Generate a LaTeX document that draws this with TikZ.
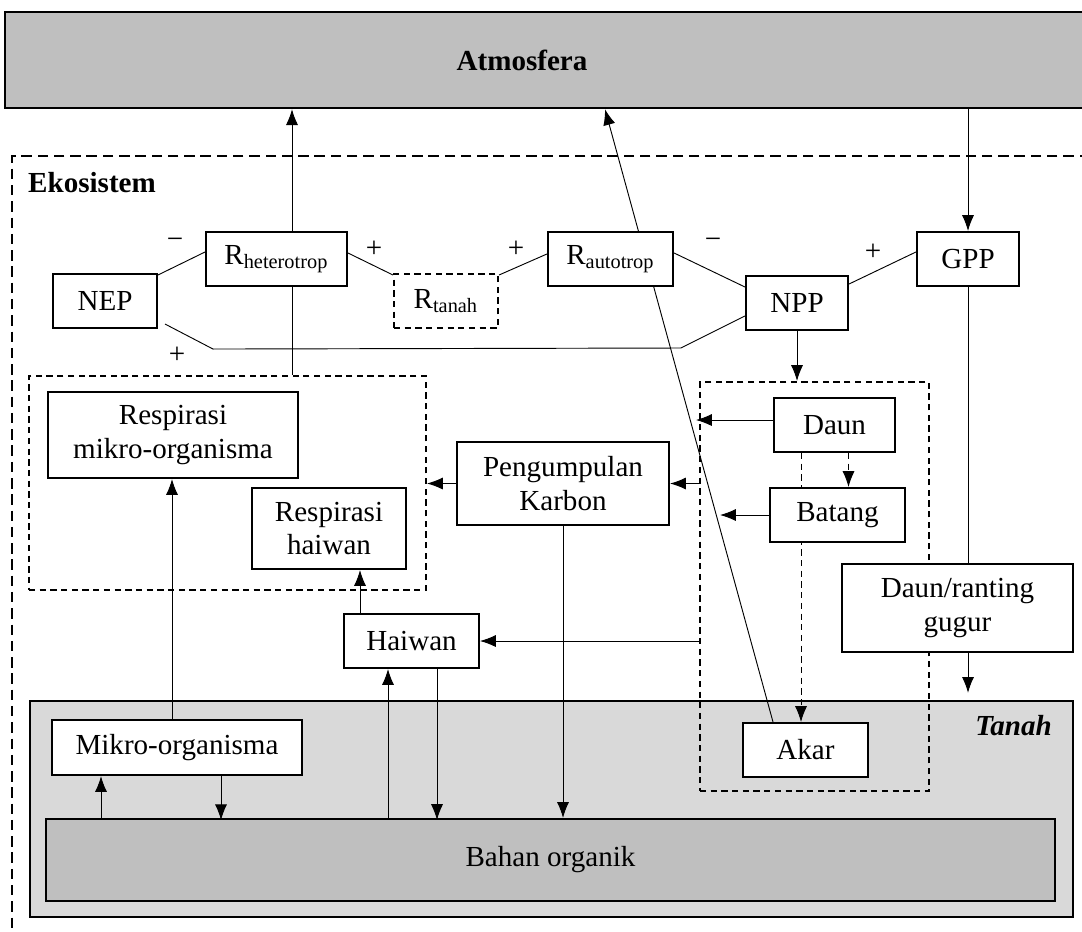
\documentclass[tikz,border=0pt]{standalone}
\usepackage{fontspec}
\setmainfont{Liberation Serif}
\usetikzlibrary{arrows.meta,calc}
\newcommand{\figfont}{\fontsize{12.5}{14.3}\selectfont}
\tikzstyle{box}=[draw,fill=white,line width=.9pt,inner sep=1pt,align=center]
\tikzstyle{grp}=[draw,dash pattern=on 2.7pt off 1.9pt,line width=.85pt]
\tikzstyle{sign}=[inner sep=0pt]
\pgfdeclarelayer{background}
\pgfdeclarelayer{edges}
\pgfsetlayers{background,edges,main}

\begin{document}
\begin{tikzpicture}[x=.43pt,y=-.43pt,line width=.85pt,
  font=\figfont,>={Latex[length=6.8pt,width=5.2pt]}]
\useasboundingbox (0,0) rectangle (1082,931);

%regions
\begin{pgfonlayer}{background}
\node[draw,fill=gray!50,line width=1pt,minimum width=471pt,minimum height=41.3pt] (atmos) at (552.5,60) {};
\draw[dash pattern=on 4.5pt off 2.5pt,line width=.9pt] (1090,156) -- (12,156) -- (12,940);
\node[draw,fill=gray!30,line width=1pt,minimum width=448.5pt,minimum height=92.9pt] (tanah) at (551.5,809) {};
\end{pgfonlayer}
\node[font=\figfont\bfseries] (atmoslbl) at (522,60) {Atmosfera};
\node[font=\figfont\bfseries,anchor=west] (ekolbl) at (20,183) {Ekosistem};
\node[font=\figfont\bfseries\itshape,anchor=east] (tanahlbl) at (1060,726) {Tanah};

%fluxes
\node[box,minimum width=44.7pt,minimum height=23.2pt] (nep) at (105,301) {NEP};
\node[box,minimum width=60.6pt,minimum height=23.2pt] (rhet) at (276.5,259) {R\textsubscript{heterotrop}};
\node[grp,fill=white,inner sep=1pt,minimum width=44.7pt,minimum height=23.2pt] (rtanah) at (446,301) {R\textsubscript{tanah}};
\node[box,minimum width=53.8pt,minimum height=23.2pt] (raut) at (610.5,259) {R\textsubscript{autotrop}};
\node[box,minimum width=43.9pt,minimum height=23.2pt] (npp) at (797,303) {NPP};
\node[box,minimum width=43.9pt,minimum height=23.2pt] (gpp) at (968,259) {GPP};

%signs
\node[sign] (s1) at (175,243) {−};
\node[sign] (s2) at (374,249) {+};
\node[sign] (s3) at (516,249) {+};
\node[sign] (s4) at (713,243) {−};
\node[sign] (s5) at (873,252) {+};
\node[sign] (s6) at (177,355) {+};

%respiration
\node[grp,minimum width=170.7pt,minimum height=92pt] (resp) at (227.5,483) {};
\node[box,minimum width=107.5pt,minimum height=37pt] (rmikro) at (173,435) {Respirasi\\mikro-organisma};
\node[box,minimum width=66.2pt,minimum height=34.8pt] (rhaiwan) at (329,528.5) {Respirasi\\haiwan};
\node[box,minimum width=91.2pt,minimum height=35.7pt] (peng) at (563,483.5) {Pengumpulan\\Karbon};
\node[box,minimum width=58pt,minimum height=23.2pt] (haiwan) at (411.5,641) {Haiwan};

%plant
\node[grp,minimum width=98.5pt,minimum height=175.9pt] (plant) at (814.5,586.5) {};
\node[box,minimum width=52pt,minimum height=23.2pt] (daun) at (834.5,425) {Daun};
\node[box,minimum width=58pt,minimum height=23.2pt] (batang) at (837.5,515) {Batang};
\node[box,minimum width=53.8pt,minimum height=23.2pt] (akar) at (805.5,750) {Akar};
\node[box,minimum width=99.3pt,minimum height=37.8pt] (gugur) at (957.5,608) {Daun/ranting\\gugur};

%soil
\node[box,minimum width=107.5pt,minimum height=23.7pt] (mikro) at (177,747.5) {Mikro-organisma};
\node[box,fill=gray!50,minimum width=433.9pt,minimum height=35.3pt] (bahan) at (550.5,860) {Bahan organik};

\begin{pgfonlayer}{edges}
%to and from atmosphere
\draw[->] ($(resp.north)+(64.5,0)$) -- ($(atmos.south)+(-260.5,0)$);
\draw[->] ($(akar.north)+(-32.5,0)$) -- ($(atmos.south)+(52.5,0)$);
\draw[->] (gpp.north |- atmos.south) -- (gpp.north);
\draw (gpp.south) -- (gpp.south |- gugur.north);
\draw[->] (gugur.south -| gpp.south) -- ($(gpp.south |- tanah.north)+(0,-7)$);

%balance
\draw ($(nep.north east)+(0,2)$) -- ($(rhet.west)+(0,-7)$);
\draw ($(rhet.east)+(0,-6)$) -- ($(rtanah.north west)+(0,2)$);
\draw ($(rtanah.north east)+(0,2)$) -- ($(raut.west)+(0,-5)$);
\draw ($(raut.east)+(0,-6)$) -- ($(npp.north west)+(0,12)$);
\draw ($(npp.north east)+(0,9)$) -- ($(gpp.west)+(0,-7)$);
\draw ($(nep.south east)+(7,-5)$) -- ++(48,25) -- ($(npp.west)+(-64,45)$) -- ($(npp.west)+(0,13)$);

%plant
\draw[->] (npp.south) -- (npp.south |- plant.north);
\draw[->] ($(daun.west)+(0,-5)$) -- ($(daun.west -| plant.west)+(-3,-5)$);
\draw[->] (batang.west) -- ++(-49,0);
\draw[dash pattern=on 2.7pt off 1.9pt,->] ($(daun.south)+(14,0)$) -- ($(batang.north)+(11,0)$);
\draw[dash pattern=on 2.7pt off 1.9pt,->] ($(daun.south)+(-33.5,0)$) -- ($(akar.north)+(-4.5,0)$);
\draw[->] (plant.west |- peng.east) -- (peng.east);
\draw[->] (peng.west) -- (peng.west -| resp.east);
\draw[->] (plant.west |- haiwan.east) -- (haiwan.east);
\draw[->] (peng.south) -- (peng.south |- bahan.north);

%animals and microbes
\draw[->] ($(haiwan.north)+(-51.5,0)$) -- ($(rhaiwan.south)+(31,0)$);
\draw[->] ($(haiwan.south)+(-23.5,151)$) -- ($(haiwan.south)+(-23.5,0)$);
\draw[->] ($(haiwan.south)+(25.5,0)$) -- ++(0,151);
\draw[->] ($(mikro.north)+(-5,0)$) -- ($(rmikro.south)+(-1,0)$);
\draw[->] ($(mikro.south)+(-76,44)$) -- ($(mikro.south)+(-76,0)$);
\draw[->] ($(mikro.south)+(44,0)$) -- ++(0,44);
\end{pgfonlayer}

\end{tikzpicture}
\end{document}
